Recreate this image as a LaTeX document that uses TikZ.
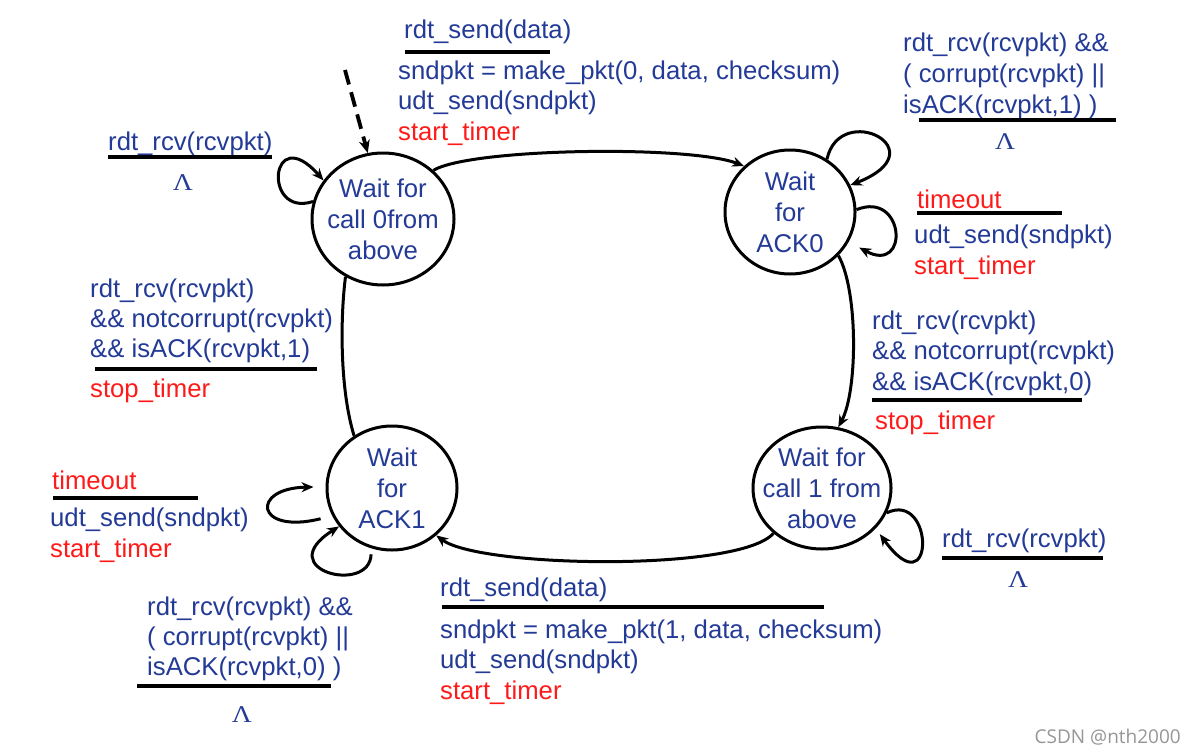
\documentclass[tikz,border=0pt]{standalone}
\usepackage{fontspec}
\setmainfont{Liberation Sans}
\newfontfamily\lamfont{Liberation Serif}
\newfontfamily\wmfont{Open Sans}
\usetikzlibrary{shapes.geometric,arrows.meta}
\definecolor{dblue}{RGB}{35,59,150}
\definecolor{dred}{RGB}{255,26,26}
\definecolor{wmgray}{RGB}{150,150,150}
\begin{document}
\begin{tikzpicture}[x=1pt,y=-1pt,
  state/.style={ellipse,draw=black,line width=3pt,inner sep=0pt},
  stext/.style={align=center,font=\fontsize{25.7}{31}\selectfont,text=dblue,inner sep=0pt},
  lb/.style={anchor=base west,inner sep=0pt,font=\fontsize{25.7}{30.5}\selectfont,text=dblue,yshift=-2pt},
  lr/.style={lb,text=dred},
  lam/.style={anchor=base,inner sep=0pt,font=\lamfont\fontsize{24}{28}\selectfont,text=dblue},
  uline/.style={line width=4.5pt,black},
  tr/.style={line width=3pt,-{Stealth[length=12pt,width=10pt]}},
  plain/.style={line width=3pt}]
\fill[white] (0,0) rectangle (1198,752);
\useasboundingbox (0,0) rectangle (1198,752);

% states
\node[state,minimum width=142pt,minimum height=132pt] (s0) at (383,219) {};
\node[stext] (s0t) at (s0.center) {Wait for\\call 0from\\above};
\node[state,minimum width=130pt,minimum height=124pt] (s1) at (790,212) {};
\node[stext] (s1t) at (s1.center) {Wait\\for\\ACK0};
\node[state,minimum width=138pt,minimum height=122pt] (s2) at (822,488) {};
\node[stext] (s2t) at (s2.center) {Wait for\\call 1 from\\above};
\node[state,minimum width=130pt,minimum height=124pt] (s3) at (392,488) {};
\node[stext] (s3t) at (s3.center) {Wait\\for\\ACK1};

% initial dashed arrow
\coordinate (init) at (345,70);
\draw[line width=3.8pt,dash pattern=on 15pt off 8pt,-{Stealth[length=13pt,width=11pt]}] (init) -- (s0.103);

% main transitions
\draw[tr] (s0.44) .. controls (470,148) and (690,145) .. (s1.135);
\draw[tr] (s1.-42) .. controls (858,290) and (858,390) .. (s2.75);
\draw[tr] (s2.223) .. controls (740,572) and (480,568) .. (s3.-47);
\draw[plain] (s3.126) .. controls (340,390) and (340,320) .. (s0.237);

% self loops
\draw[tr] (s0.166) .. controls (262,218) and (270,120) .. (s0.147);
\draw[tr] (s1.55) .. controls (840,100) and (940,150) .. (s1.24);
\draw[tr,shorten >=12pt] (s1.2) .. controls (905,190) and (910,275) .. (s1.-27);
\draw[tr,shorten >=7pt] (s2.-21) .. controls (935,490) and (935,610) .. (s2.-37);
\draw[tr,shorten <=12pt,shorten >=12pt] (s3.205) .. controls (255,535) and (250,488) .. (s3.179);
\draw[tr,shorten <=6pt] (s3.251) .. controls (370,595) and (270,570) .. (s3.216);

% label: s0 -> s1
\node[lb] (a1) at (404,36) {rdt\_send(data)};
\draw[uline] (405,52) -- (550,52);
\node[lb] (a2) at (398,77) {sndpkt = make\_pkt(0, data, checksum)};
\node[lb] (a3) at (398,107) {udt\_send(sndpkt)};
\node[lr] (a4) at (398,138) {start\_timer};

% label: s1 loop top
\node[lb] (b1) at (903,50) {rdt\_rcv(rcvpkt) \&\&};
\node[lb] (b2) at (903,80.5) {( corrupt(rcvpkt) ||};
\node[lb] (b3) at (903,111) {isACK(rcvpkt,1) )};
\draw[uline] (919,120) -- (1116,120);
\node[lam] (b4) at (1005,149) {\scalebox{1.15}[1]{Λ}};

% label: s0 loop
\node[lb] (c1) at (108,148) {rdt\_rcv(rcvpkt)};
\draw[uline] (108,157) -- (272,157);
\node[lam] (c2) at (183,190) {\scalebox{1.15}[1]{Λ}};

% label: s1 timeout
\node[lr] (d1) at (917,206) {timeout};
\draw[uline] (917,213) -- (1062,213);
\node[lb] (d2) at (914,241) {udt\_send(sndpkt)};
\node[lr] (d3) at (914,272) {start\_timer};

% label: s3 -> s0
\node[lb] (e1) at (90,295) {rdt\_rcv(rcvpkt)};
\node[lb] (e2) at (90,325) {\&\& notcorrupt(rcvpkt)};
\node[lb] (e3) at (90,355) {\&\& isACK(rcvpkt,1)};
\draw[uline] (95,369) -- (317,369);
\node[lr] (e4) at (90,395) {stop\_timer};

% label: s1 -> s2
\node[lb] (f1) at (872,327) {rdt\_rcv(rcvpkt)};
\node[lb] (f2) at (872,357) {\&\& notcorrupt(rcvpkt)};
\node[lb] (f3) at (872,388) {\&\& isACK(rcvpkt,0)};
\draw[uline] (872,400) -- (1082,400);
\node[lr] (f4) at (875,427) {stop\_timer};

% label: s3 timeout
\node[lr] (g1) at (52,487) {timeout};
\draw[uline] (53,498) -- (198,498);
\node[lb] (g2) at (50,524) {udt\_send(sndpkt)};
\node[lr] (g3) at (50,555) {start\_timer};

% label: s3 loop bottom
\node[lb] (h1) at (147,613) {rdt\_rcv(rcvpkt) \&\&};
\node[lb] (h2) at (147,643) {( corrupt(rcvpkt) ||};
\node[lb] (h3) at (147,673) {isACK(rcvpkt,0) )};
\draw[uline] (137,686) -- (331,686);
\node[lam] (h4) at (242,722) {\scalebox{1.15}[1]{Λ}};

% label: s2 -> s3
\node[lb] (i1) at (440,594) {rdt\_send(data)};
\draw[uline] (442,607) -- (824,607);
\node[lb] (i2) at (440,636) {sndpkt = make\_pkt(1, data, checksum)};
\node[lb] (i3) at (440,666) {udt\_send(sndpkt)};
\node[lr] (i4) at (440,697) {start\_timer};

% label: s2 loop
\node[lb] (j1) at (942,545) {rdt\_rcv(rcvpkt)};
\draw[uline] (942,558) -- (1103,558);
\node[lam] (j2) at (1018,587) {\scalebox{1.15}[1]{Λ}};

% watermark
\node[anchor=base east,inner sep=0pt,font=\wmfont\fontsize{19}{22}\selectfont,text=wmgray] (wm) at (1181,743) {CSDN @nth2000};
\end{tikzpicture}
\end{document}
